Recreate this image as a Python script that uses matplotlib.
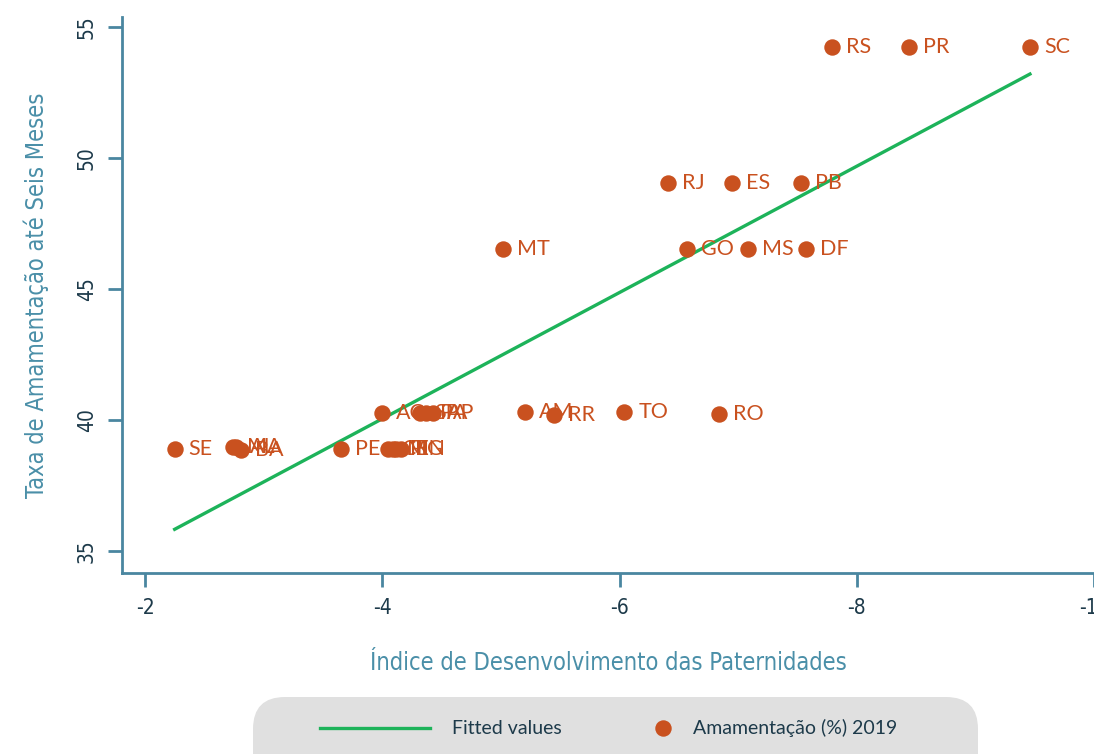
import matplotlib.pyplot as plt
import numpy as np
from matplotlib.lines import Line2D
from matplotlib.patches import FancyBboxPatch

plt.rcParams["axes.unicode_minus"] = False

# valores
estados = ["RS", "PR", "SC", "RJ", "ES", "PB", "MT", "GO", "MS", "DF",
           "AC", "SP", "PA", "AP", "AM", "RR", "TO", "RO",
           "SE", "MA", "AL", "BA", "PE", "CE", "MG", "PI", "RN"]
idp = [-7.79, -8.44, -9.46, -6.41, -6.95, -7.53, -5.02, -6.57, -7.08, -7.57,
       -4.00, -4.32, -4.37, -4.43, -5.20, -5.45, -6.04, -6.84,
       -2.25, -2.74, -2.77, -2.81, -3.65, -4.05, -4.09, -4.12, -4.16]
amamentacao = [54.24, 54.24, 54.24, 49.05, 49.05, 49.05, 46.53, 46.53, 46.53, 46.53,
               40.27, 40.27, 40.27, 40.27, 40.31, 40.19, 40.31, 40.23,
               38.89, 38.97, 38.97, 38.85, 38.89, 38.89, 38.89, 38.89, 38.89]
x_ticks = [-2, -4, -6, -8, -10]
y_ticks = [35, 40, 45, 50, 55]

COR_PONTO = "#c9511f"
COR_LINHA = "#1db35a"
COR_EIXO = "#4a86a0"
COR_TEXTO = "#1d3a4a"
COR_TITULO = "#4a8fa8"
FONTE_EIXO = dict(family="DejaVu Sans", stretch="condensed")

W, H = 1094, 754
fig = plt.figure(figsize=(W / 100, H / 100), dpi=100)

# eixo principal (vai até a borda direita, como no original)
ax = fig.add_axes([122 / W, (H - 573) / H, (1094 - 122) / W, (573 - 17) / H])
ax.set_xlim(-1.806, -10.0)
ax.set_ylim(34.16, 55.38)

x = np.array(idp)
y = np.array(amamentacao)
coef = np.polyfit(x, y, 1)
xf = np.array([x.min(), x.max()])
ax.plot(xf, np.polyval(coef, xf), color=COR_LINHA, lw=2.4, zorder=2)

ax.scatter(x, y, s=140, color=COR_PONTO, zorder=3, linewidths=0)
for nome, xi, yi in zip(estados, idp, amamentacao):
    ax.annotate(nome, (xi, yi), xytext=(10, 0), textcoords="offset points",
                ha="left", va="center", fontsize=15.5, color=COR_PONTO,
                family="Lato", zorder=4)

for lado in ["top", "right"]:
    ax.spines[lado].set_visible(False)
for lado in ["left", "bottom"]:
    ax.spines[lado].set_color(COR_EIXO)
    ax.spines[lado].set_linewidth(2)

ax.set_xticks(x_ticks)
ax.set_yticks(y_ticks)
ax.set_xticklabels([str(t) for t in x_ticks])
ax.set_yticklabels([str(t) for t in y_ticks], rotation=90, va="center")
ax.tick_params(axis="both", length=10, width=2, color=COR_EIXO,
               labelcolor=COR_TEXTO, labelsize=15, pad=8)
for lbl in ax.get_xticklabels() + ax.get_yticklabels():
    lbl.set_fontstretch("condensed")

ax.set_xlabel("Índice de Desenvolvimento das Paternidades", fontsize=17,
              color=COR_TITULO, labelpad=24, **FONTE_EIXO)
ax.set_ylabel("Taxa de Amamentação até Seis Meses", fontsize=17,
              color=COR_TITULO, labelpad=20, **FONTE_EIXO)

# legenda em caixa arredondada, cortada na borda inferior
lw_px, lh_px = 725, 95
ax_leg = fig.add_axes([253 / W, (H - 697 - lh_px) / H, lw_px / W, lh_px / H])
ax_leg.set_xlim(0, lw_px)
ax_leg.set_ylim(0, lh_px)
ax_leg.axis("off")
caixa = FancyBboxPatch((0, 0), lw_px, lh_px, boxstyle="round,pad=0,rounding_size=32",
                       facecolor="#e0e0e0", edgecolor="none", clip_on=False)
ax_leg.add_patch(caixa)
yc = lh_px - 31
ax_leg.add_line(Line2D([67, 177], [yc, yc], color=COR_LINHA, lw=2.4))
ax_leg.text(199, yc, "Fitted values", fontsize=14, color=COR_TEXTO,
            va="center", ha="left", family="Lato")
ax_leg.scatter([410], [yc], s=140, color=COR_PONTO, linewidths=0, clip_on=False)
ax_leg.text(440, yc, "Amamentação (%) 2019", fontsize=14, color=COR_TEXTO,
            va="center", ha="left", family="Lato")

fig.savefig("out.png", dpi=100)
